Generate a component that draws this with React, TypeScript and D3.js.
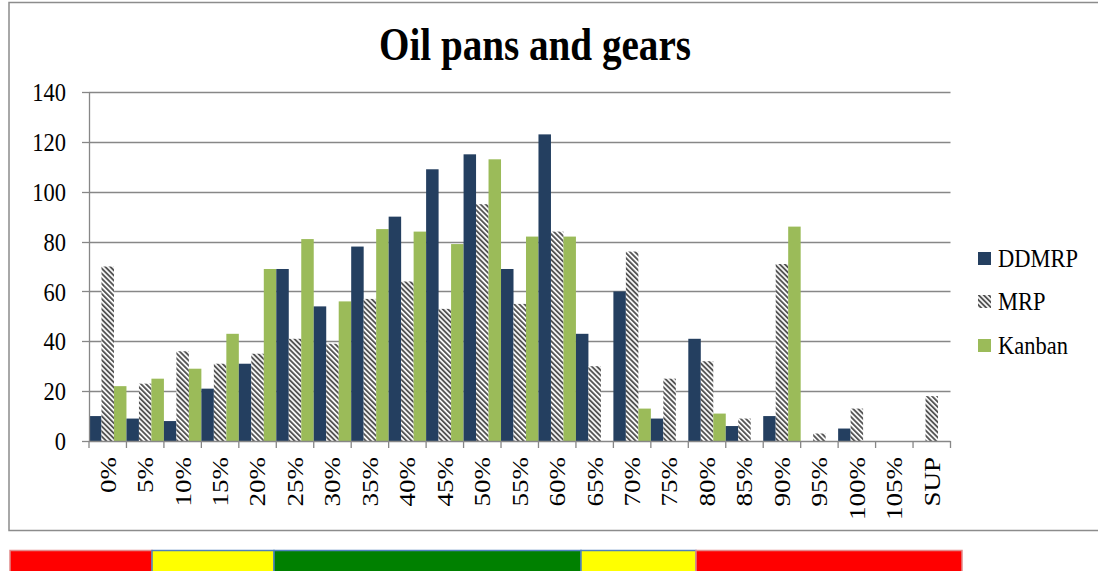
import React from "react";
import * as d3 from "d3";

const categories = ["0%", "5%", "10%", "15%", "20%", "25%", "30%", "35%", "40%", "45%", "50%", "55%", "60%", "65%", "70%", "75%", "80%", "85%", "90%", "95%", "100%", "105%", "SUP"];
const ddmrp = [10, 9, 8, 21, 31, 69, 54, 78, 90, 109, 115, 69, 123, 43, 60, 9, 41, 6, 10, 0, 5, 0, 0];
const mrp = [70, 23, 36, 31, 35, 41, 39, 57, 64, 53, 95, 55, 84, 30, 76, 25, 32, 9, 71, 3, 13, 0, 18];
const kanban = [22, 25, 29, 43, 69, 81, 56, 85, 84, 79, 113, 82, 82, 0, 13, 0, 11, 0, 86, 0, 0, 0, 0];
const seriesNames = ["DDMRP", "MRP", "Kanban"];
const yTicks = [0, 20, 40, 60, 80, 100, 120, 140];
const title = "Oil pans and gears";
const zoneColors = ["#ff0000", "#ffff00", "#008000", "#ffff00", "#ff0000"];
const zoneEdges = [10, 152, 274, 581, 696, 962];

const W = 1098;
const H = 571;
const FONT = "'Liberation Serif', 'Times New Roman', serif";

export default function App() {
  const left = 89;
  const right = 950.5;
  const top = 92;
  const bottom = 441;
  const x = d3.scaleBand<string>().domain(categories).range([left, right]).padding(0);
  const xs = d3.scaleBand<string>().domain(seriesNames).range([0, x.bandwidth()]).padding(0);
  const y = d3.scaleLinear().domain([0, 140]).range([bottom, top]);
  const data = [ddmrp, mrp, kanban];
  const fills = ["#243F60", "url(#mrpPat)", "#9BBB59"];
  const legendY = [258, 301, 345];

  return (
    <svg width={W} height={H} style={{ position: "absolute", left: 0, top: 0 }} fontFamily={FONT}>
      <defs>
        <pattern id="mrpPat" patternUnits="userSpaceOnUse" width={3.6} height={3.6} patternTransform="rotate(-45)">
          <rect x={0} y={0} width={3.6} height={3.6} fill="#ffffff" />
          <rect x={0} y={0} width={1.9} height={3.6} fill="#555555" />
        </pattern>
      </defs>
      <rect x={0} y={0} width={W} height={H} fill="#ffffff" />
      <rect x={9} y={2.5} width={1100} height={528} fill="#ffffff" stroke="#8c8c8c" strokeWidth={1.5} />
      <text transform="translate(535,60) scale(1.03,1.2)" textAnchor="middle" fontSize={38} fontWeight="bold">{title}</text>

      {yTicks.map((t) => (
        <g key={t}>
          {t > 0 && <line x1={left} x2={right} y1={Math.round(y(t)) + 0.5} y2={Math.round(y(t)) + 0.5} stroke="#878787" strokeWidth={1.3} />}
          <line x1={left - 7} x2={left} y1={Math.round(y(t)) + 0.5} y2={Math.round(y(t)) + 0.5} stroke="#878787" strokeWidth={1.3} />
          <text transform={`translate(66,${y(t)}) scale(1,1.12)`} dy="0.36em" textAnchor="end" fontSize={22.5}>{t}</text>
        </g>
      ))}

      {categories.map((c, i) => (
        <g key={c}>
          {data.map((arr, s) => {
            const v = arr[i];
            if (!v) return null;
            return (
              <rect key={s} x={(x(c) as number) + (xs(seriesNames[s]) as number)} y={y(v)} width={xs.bandwidth()} height={y(0) - y(v)} fill={fills[s]} />
            );
          })}
        </g>
      ))}

      <line x1={left + 0.5} x2={left + 0.5} y1={top} y2={bottom} stroke="#878787" strokeWidth={1.3} />
      <line x1={left} x2={right} y1={bottom + 0.5} y2={bottom + 0.5} stroke="#878787" strokeWidth={1.3} />
      {[...categories.map((c) => x(c) as number), right].map((px, i) => (
        <line key={i} x1={px} x2={px} y1={bottom} y2={bottom + 7} stroke="#878787" strokeWidth={1.3} />
      ))}
      {categories.map((c) => (
        <text key={c} transform={`translate(${(x(c) as number) + x.bandwidth() / 2},457) rotate(-90) scale(1.2,1)`} textAnchor="end" dy="0.35em" fontSize={22.5}>{c}</text>
      ))}

      {seriesNames.map((n, s) => (
        <g key={n}>
          <rect x={978} y={legendY[s] - 6} width={13} height={13} fill={fills[s]} />
          <text transform={`translate(998,${legendY[s]}) scale(1,1.12)`} dy="0.36em" fontSize={22.5}>{n}</text>
        </g>
      ))}

      {zoneColors.map((col, i) => (
        <rect key={i} x={zoneEdges[i]} y={550.5} width={zoneEdges[i + 1] - zoneEdges[i]} height={30} fill={col} stroke={col === "#ff0000" ? "#e28b8b" : "#4f81bd"} strokeWidth={1.5} />
      ))}
    </svg>
  );
}
